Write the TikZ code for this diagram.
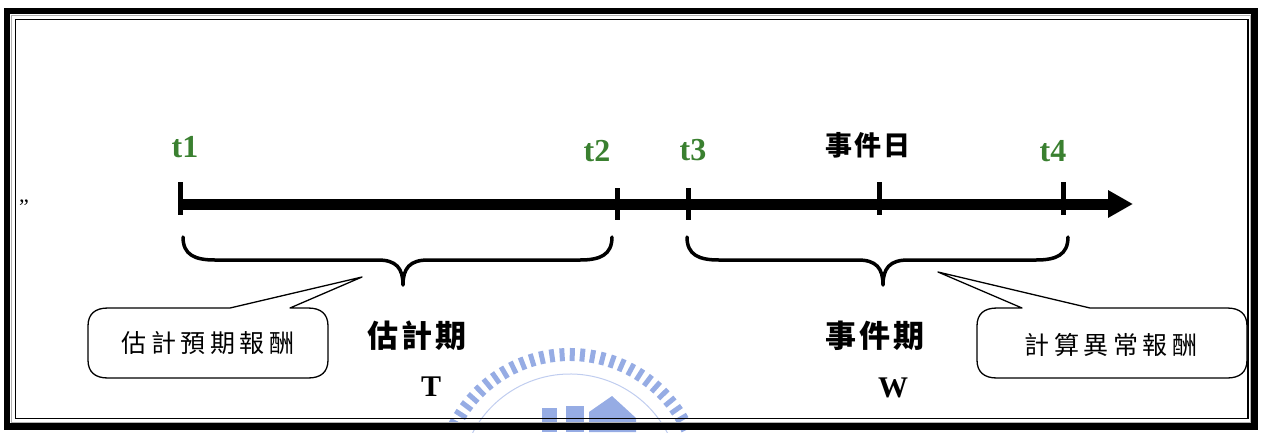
\documentclass[tikz,border=0pt]{standalone}
\usepackage{fontspec}
\setmainfont{Liberation Serif}
\newfontfamily\cjk{Noto Sans CJK TC}
\usetikzlibrary{arrows.meta}
\definecolor{tgreen}{RGB}{58,128,48}
\definecolor{wm}{RGB}{150,172,228}
\begin{document}
\begin{tikzpicture}[x=1pt,y=-1pt,
  tlabel/.style={font=\fontsize{32}{34}\selectfont\bfseries, text=tgreen, inner sep=0pt},
  axtick/.style={line width=5pt},
  brace/.style={line width=3.5pt, line cap=round, line join=round},
  callout/.style={line width=1.3pt, fill=white, line join=round},
  period/.style={font=\cjk\bfseries\fontsize{31}{33}\selectfont, inner sep=0pt},
  letter/.style={font=\fontsize{30}{32}\selectfont\bfseries, inner sep=0pt},
  note/.style={font=\cjk\fontsize{25}{27}\selectfont, inner sep=0pt}]
\useasboundingbox (0,0) rectangle (1264,432);
% watermark
\begin{scope}
\clip (0,0) rectangle (1264,432);
\foreach \a in {26,30.5,...,156}
  \draw[wm, line width=5pt] ({570+123*cos(\a)},{484-123*sin(\a)}) -- ({570+136*cos(\a)},{484-136*sin(\a)});
\draw[wm!60, line width=1pt] ({570+110*cos(25)},{484-110*sin(25)}) arc[start angle=-25, end angle=-155, radius=110];
\fill[wm] (542,408) rectangle (557,432);
\fill[wm] (566,406) rectangle (584,432);
\fill[wm] (589,432) -- (589,412) -- (612,396) -- (636,418) -- (636,432) -- cycle;
\end{scope}
% frame
\draw[line width=6.5pt] (7,11) rectangle (1254.5,426.5);
\draw[gray!60, line width=1pt] (11,15) rectangle (1250.5,422.5);
\draw[line width=1.5pt] (15.5,19.5) rectangle (1248,418.5);
\node[inner sep=0pt, font=\fontsize{22}{24}\selectfont] (q) at (24,207) {”};
% axis
\coordinate (A0) at (180,204);
\coordinate (Aend) at (1133,204);
\draw[line width=11pt, -{Triangle[length=25pt,width=26pt]}] (A0) -- (Aend);
\coordinate (k1a) at (180,182); \coordinate (k1b) at (180,215);
\coordinate (k2a) at (617,188); \coordinate (k2b) at (617,220);
\coordinate (k3a) at (688,188); \coordinate (k3b) at (688,220);
\coordinate (kea) at (879,182); \coordinate (keb) at (879,215);
\coordinate (k4a) at (1063,182); \coordinate (k4b) at (1063,215);
\draw[axtick] (k1a) -- (k1b);
\draw[axtick] (k2a) -- (k2b);
\draw[axtick] (k3a) -- (k3b);
\draw[axtick] (kea) -- (keb);
\draw[axtick] (k4a) -- (k4b);
% labels
\node[tlabel] (lt1) at (185,147) {t1};
\node[tlabel] (lt2) at (597,151) {t2};
\node[tlabel] (lt3) at (693,150) {t3};
\node[tlabel] (lt4) at (1053,151) {t4};
\node[inner sep=0pt, font=\cjk\bfseries\fontsize{27}{29}\selectfont] (ev) at (868,145) {事\hspace{2pt}件\hspace{2pt}日};
% braces
\draw[brace] (183,237) .. controls (183,255) and (195,260) .. (215,260) -- (378,260)
  .. controls (396,260) and (403,268) .. (403,285)
  .. controls (403,268) and (410,260) .. (428,260) -- (580,260)
  .. controls (600,260) and (612,255) .. (612,237);
\draw[brace] (687,237) .. controls (687,255) and (699,260) .. (719,260) -- (858,260)
  .. controls (876,260) and (883,268) .. (883,285)
  .. controls (883,268) and (890,260) .. (908,260) -- (1036,260)
  .. controls (1056,260) and (1068,255) .. (1068,237);
% callouts
\draw[callout] (230,308) -- (362,277) -- (290,308) -- (308,308)
  .. controls (321,308) and (328,314) .. (328,326) -- (328,360)
  .. controls (328,372) and (321,378) .. (308,378) -- (108,378)
  .. controls (95,378) and (88,372) .. (88,360) -- (88,326)
  .. controls (88,314) and (95,308) .. (108,308) -- cycle;
\node[note] (n1) at (208,343) {估\hspace{4.5pt}計\hspace{4.5pt}預\hspace{4.5pt}期\hspace{4.5pt}報\hspace{4.5pt}酬};
\draw[callout] (1022,308) -- (938,272) -- (1090,308) -- (1227,308)
  .. controls (1240,308) and (1247,314) .. (1247,326) -- (1247,360)
  .. controls (1247,372) and (1240,378) .. (1227,378) -- (997,378)
  .. controls (984,378) and (977,372) .. (977,360) -- (977,326)
  .. controls (977,314) and (984,308) .. (997,308) -- cycle;
\node[note] (n2) at (1111,345) {計\hspace{4.5pt}算\hspace{4.5pt}異\hspace{4.5pt}常\hspace{4.5pt}報\hspace{4.5pt}酬};
% periods
\node[period] (p1) at (417,336) {估\hspace{3pt}計\hspace{3pt}期};
\node[period] (p2) at (875,336) {事\hspace{3pt}件\hspace{3pt}期};
\node[letter] (lT) at (431,387) {T};
\node[letter] (lW) at (893,388) {W};
\end{tikzpicture}
\end{document}
